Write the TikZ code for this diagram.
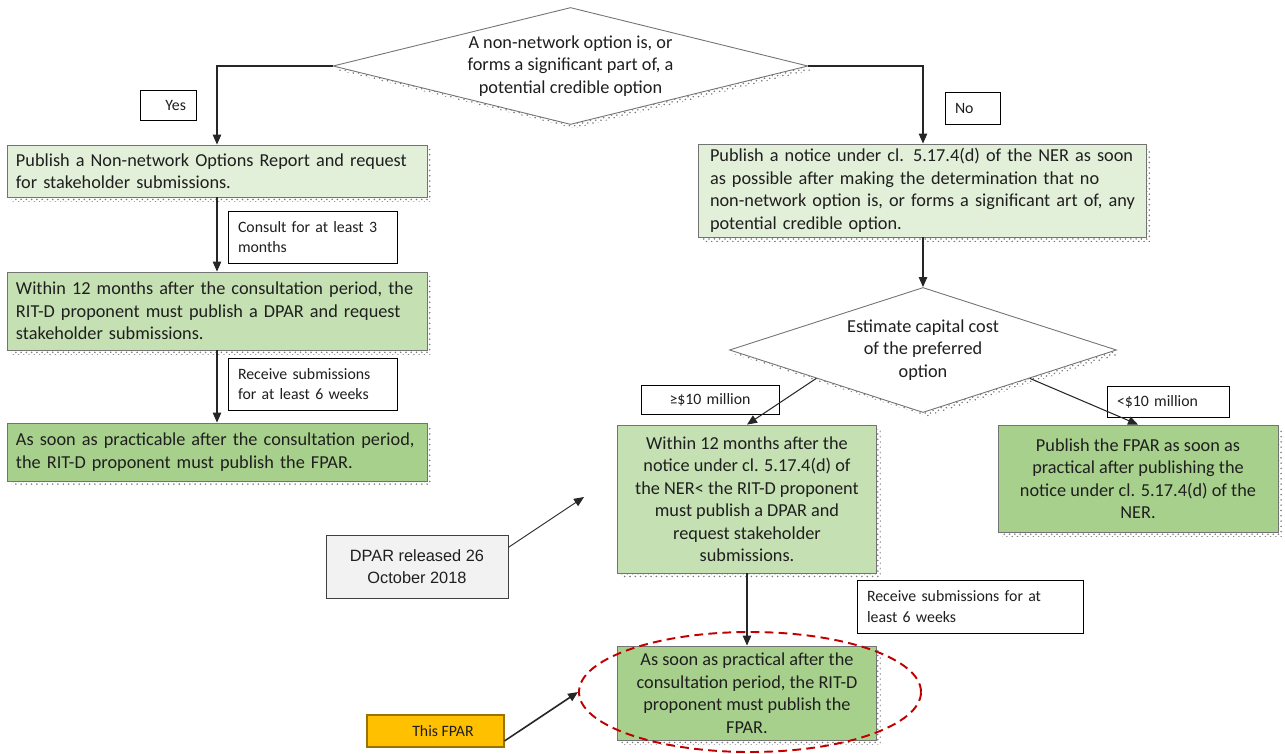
\documentclass[tikz,border=0pt]{standalone}
\usepackage{fontspec}
\setmainfont{Carlito}
\newfontfamily\arialfont{Liberation Sans}
\usetikzlibrary{shapes.geometric,arrows.meta,shadows,calc,patterns}

\definecolor{paleGreen}{HTML}{E2EFD9}
\definecolor{midGreen}{HTML}{C5E0B3}
\definecolor{deepGreen}{HTML}{A8D08D}
\definecolor{amber}{HTML}{FFC000}
\definecolor{dashRed}{HTML}{C00000}
\definecolor{noteGray}{HTML}{F2F2F2}

\newcommand\boxfont{\fontsize{10.4}{12.8}\selectfont\hyphenpenalty=10000 }
\newcommand\notefont{\fontsize{9}{11.8}\selectfont}

\begin{document}
\begin{tikzpicture}[x=0.2mm, y=-0.2mm,
		every node/.style={text=black!88},
		shade box/.style={drop shadow={shadow xshift=2.3pt, shadow yshift=-2.3pt, opacity=.75, fill=none, pattern=crosshatch dots, pattern color=black!70}},
		box/.style={draw=black!55, line width=0.5pt, font=\boxfont, shade box},
		leftbox/.style={box, align=left, inner xsep=1.8mm, inner ysep=0pt, text width=80.4mm, minimum height=#1},
		centerbox/.style={box, align=center, inner sep=1mm},
		decision/.style={diamond, draw=black!55, line width=0.5pt, fill=white, font=\boxfont, align=center, inner sep=0pt, shade box},
		note/.style={draw=black, line width=0.5pt, fill=white, font=\notefont, inner ysep=0pt, inner xsep=2mm},
		arrow/.style={-{Triangle[length=2mm, width=1.7mm]}, line width=0.6pt, draw=black!85}
	]
		\useasboundingbox (0, 0) rectangle (1285, 753);

		\node[decision, minimum width=95mm, minimum height=23.4mm, shape aspect=4] (question) at (570.5, 66) {A non-network option is, or\\ forms a significant part of, a\\ potential credible option};

		\node[leftbox=10.4mm, fill=paleGreen] (optionsReport) at (217, 171) {Publish a Non-network Options Report and request\\ for stakeholder submissions.};
		\node[leftbox=15.6mm, fill=midGreen] (draftLeft) at (217, 311) {Within 12 months after the consultation period, the\\ RIT-D proponent must publish a DPAR and request\\ stakeholder submissions.};
		\node[leftbox=11.6mm, fill=deepGreen] (finalLeft) at (217, 452) {As soon as practicable after the consultation period,\\ the RIT-D proponent must publish the FPAR.};

		\node[box, fill=paleGreen, align=left, inner xsep=2.4mm, inner ysep=0pt, text width=84.8mm, minimum height=18.6mm] (noticeBox) at (922, 190.5) {Publish a notice under cl. 5.17.4(d) of the NER as soon\\ as possible after making the determination that no\\ \mbox{non-network option is, or forms a significant art of, any}\\ potential credible option.};

		\node[decision, minimum width=77.4mm, minimum height=25mm, shape aspect=3.1] (costCheck) at (923, 350) {Estimate capital cost\\ of the preferred\\ option};

		\node[centerbox, fill=midGreen, minimum width=51.8mm, minimum height=29.6mm] (draftRight) at (747, 499) {Within 12 months after the\\ notice under cl. 5.17.4(d) of\\ the NER< the RIT-D proponent\\ must publish a DPAR and\\ request stakeholder\\ submissions.};
		\node[centerbox, fill=deepGreen, minimum width=56mm, minimum height=21.4mm] (finalRight) at (1138, 478.5) {Publish the FPAR as soon as\\ practical after publishing the\\ notice under cl. 5.17.4(d) of the\\ NER.};
		\node[centerbox, fill=deepGreen, minimum width=51.8mm, minimum height=18.8mm] (thisFinal) at (747, 693) {As soon as practical after the\\ consultation period, the RIT-D\\ proponent must publish the\\ FPAR.};

		\node[note, align=right, text width=7.2mm, minimum height=6mm] (yesNote) at (168, 105) {Yes};
		\node[note, align=left, text width=7mm, minimum height=6.4mm] (noNote) at (972.5, 108) {No};
		\node[note, align=left, text width=29.8mm, minimum height=10.4mm] (consultNote) at (312.5, 237) {Consult for at least 3\\ months};
		\node[note, align=left, text width=29.8mm, minimum height=10.4mm] (receiveLeft) at (312.5, 384) {Receive submissions\\ for at least 6 weeks};
		\node[note, align=center, text width=23.6mm, minimum height=5.8mm] (bigCost) at (710, 399.5) {≥\$10 million};
		\node[note, align=left, text width=20.4mm, minimum height=6.2mm] (smallCost) at (1168, 401.5) {<\$10 million};
		\node[note, align=left, text width=41.2mm, minimum height=10.6mm] (receiveRight) at (970, 606.5) {Receive submissions for at\\ least 6 weeks};

		\node[draw=black!75, line width=0.5pt, fill=noteGray, font=\arialfont\fontsize{9.3}{12.6}\selectfont, align=center, minimum width=36.4mm, minimum height=12.6mm] (dparNote) at (417, 566.5) {DPAR released 26\\ October 2018};
		\node[draw=amber!60!black, line width=0.6pt, fill=amber, font=\notefont, minimum width=27.4mm, minimum height=6.4mm] (fparNote) at (435.5, 731) {\hspace*{3mm}This FPAR};

		\node[ellipse, draw=dashRed, dashed, dash pattern=on 5pt off 3pt, line width=1.1pt, minimum width=68.4mm, minimum height=24mm] (focus) at (750, 692) {};

		\coordinate (dparTip) at (584, 497);

		\draw[arrow] (question.west) -| (optionsReport.north);
		\draw[arrow] (question.east) -| (costCheck.north |- noticeBox.north);
		\draw[arrow] (optionsReport.south) -- (draftLeft.north);
		\draw[arrow] (draftLeft.south) -- (finalLeft.north);
		\draw[arrow] (noticeBox.south -| costCheck.north) -- (costCheck.north);
		\draw[arrow] ($(costCheck.west)!.45!(costCheck.south)$) -- (draftRight.north);
		\draw[arrow] ($(costCheck.south)!.55!(costCheck.east)$) -- (finalRight.north);
		\draw[arrow] (draftRight.south) -- (thisFinal.north);
		\draw[arrow, line width=0.5pt] ($(dparNote.north east)!.2!(dparNote.south east)$) -- (dparTip);
		\draw[arrow, line width=0.9pt] ($(fparNote.north east)!.8!(fparNote.south east)$) -- (focus.west);
	\end{tikzpicture}
\end{document}
